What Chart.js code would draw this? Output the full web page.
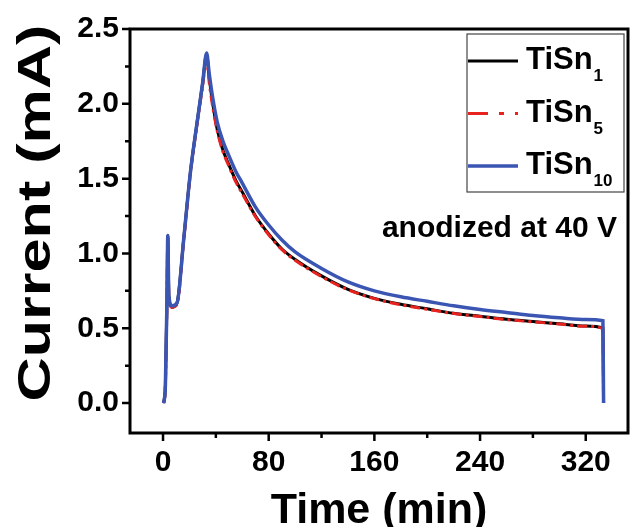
<!DOCTYPE html>
<html>
<head>
<meta charset="utf-8">
<script src="https://cdn.jsdelivr.net/npm/chart.js@4/dist/chart.umd.min.js"></script>
<style>
  html, body { margin: 0; padding: 0; background: #fff; }
  #wrap { width: 632px; height: 527px; }
</style>
</head>
<body>
<div id="wrap"><canvas id="chart" width="632" height="527"></canvas></div>
<script>
// time (min), shared by the three curves
const timeMin = [0.5, 1.8, 3.0, 3.6, 4.4, 6.8, 10.6, 15.6, 20.7, 25.7, 30, 33, 35, 38, 41, 45, 50, 55, 60, 70,
    80, 90, 100, 120, 140, 160, 180, 200, 220, 240, 260, 280, 300, 320, 333, 333.5];

// current (mA)
const tiSn1 = [0, 0.12, 0.69, 1.12, 0.72, 0.64, 0.67, 1.09, 1.54, 1.87, 2.14, 2.33, 2.17, 1.98, 1.83, 1.70, 1.59, 1.49, 1.41, 1.25,
    1.13, 1.03, 0.96, 0.85, 0.76, 0.70, 0.66, 0.63, 0.60, 0.58, 0.56, 0.545, 0.53, 0.515, 0.50, 0];
const tiSn5 = [0, 0.12, 0.69, 1.10, 0.71, 0.64, 0.66, 1.08, 1.53, 1.86, 2.12, 2.30, 2.14, 1.96, 1.82, 1.69, 1.58, 1.48, 1.40, 1.245,
    1.125, 1.025, 0.955, 0.845, 0.757, 0.698, 0.657, 0.627, 0.598, 0.578, 0.558, 0.543, 0.528, 0.513, 0.498, 0];
const tiSn10 = [0, 0.12, 0.69, 1.12, 0.72, 0.65, 0.67, 1.09, 1.54, 1.87, 2.14, 2.34, 2.20, 2.02, 1.88, 1.76, 1.65, 1.55, 1.47, 1.31,
    1.19, 1.09, 1.01, 0.90, 0.81, 0.75, 0.71, 0.68, 0.65, 0.625, 0.605, 0.585, 0.57, 0.558, 0.55, 0];

const seriesNames = ['TiSn1', 'TiSn5', 'TiSn10'];
const xTitle = 'Time (min)';
const yTitle = 'Current (mA)';
const note = 'anodized at 40 V';

const FONT = "'Liberation Sans', Arial, sans-serif";
Chart.defaults.font.family = FONT;
Chart.defaults.color = '#000';

function toPoints(values) {
    return timeMin.map((t, i) => ({ x: t, y: values[i] }));
}

const colors = ['#000000', '#e8231f', '#3b55b3'];
const dashes = [[], [10, 4, 3, 4], []];
const widths = [3, 3, 3.5];

const datasets = [tiSn1, tiSn5, tiSn10].map((vals, i) => ({
    label: seriesNames[i],
    data: toPoints(vals),
    borderColor: colors[i],
    borderDash: dashes[i],
    borderWidth: widths[i],
    pointRadius: 0,
    cubicInterpolationMode: 'monotone',
    fill: false,
    order: 2 - i
}));

// frame + outward ticks (major longer than minor), titles, legend, note
const framePlugin = {
    id: 'frame',
    afterDatasetsDraw(chart) {
        const { ctx, chartArea: a, scales: { x, y } } = chart;
        ctx.save();
        ctx.strokeStyle = '#000';
        ctx.lineWidth = 3;
        ctx.strokeRect(a.left, a.top, a.right - a.left, a.bottom - a.top);
        ctx.lineWidth = 2.5;
        ctx.beginPath();
        x.ticks.forEach(t => {
            const px = x.getPixelForValue(t.value);
            const len = t.value % 80 === 0 ? 8 : 5;
            ctx.moveTo(px, a.bottom);
            ctx.lineTo(px, a.bottom + len);
        });
        y.ticks.forEach(t => {
            const py = y.getPixelForValue(t.value);
            const major = Math.abs(t.value * 2 - Math.round(t.value * 2)) < 1e-9;
            ctx.moveTo(a.left, py);
            ctx.lineTo(a.left - (major ? 8 : 5), py);
        });
        ctx.stroke();
        ctx.restore();
    },
    afterDraw(chart) {
        const { ctx, chartArea: a } = chart;
        ctx.save();
        ctx.fillStyle = '#000';

        // x title
        ctx.font = 'bold 43px ' + FONT;
        ctx.textAlign = 'center';
        ctx.textBaseline = 'alphabetic';
        ctx.fillText(xTitle, (a.left + a.right) / 2, 523);

        // y title, a bit stretched along its length like the original
        ctx.save();
        ctx.translate(50, 213);
        ctx.rotate(-Math.PI / 2);
        ctx.scale(1.3, 1);
        ctx.font = 'bold 47px ' + FONT;
        ctx.fillText(yTitle, 0, 0);
        ctx.restore();

        // note
        ctx.font = 'bold 30px ' + FONT;
        ctx.textAlign = 'right';
        ctx.fillText(note, 617, 237);

        // legend box
        const boxR = a.right - 4, boxT = a.top + 5, boxW = 157, boxH = 158;
        const boxL = boxR - boxW;
        ctx.lineWidth = 1.2;
        ctx.strokeStyle = '#444';
        ctx.strokeRect(boxL, boxT, boxW, boxH);

        chart.data.datasets.forEach((ds, i) => {
            const ly = boxT + 27 + i * 52.5;
            ctx.save();
            ctx.strokeStyle = ds.borderColor;
            ctx.lineWidth = ds.borderWidth;
            ctx.setLineDash(i === 1 ? [20, 11, 5, 11] : []);
            ctx.beginPath();
            ctx.moveTo(boxL + 1, ly);
            ctx.lineTo(boxL + 51, ly);
            ctx.stroke();
            ctx.restore();

            const m = ds.label.match(/^(\D+)(\d+)$/);
            const base = m ? m[1] : ds.label;
            const sub = m ? m[2] : '';
            ctx.textAlign = 'left';
            ctx.font = 'bold 31px ' + FONT;
            const tx = boxL + 59;
            ctx.fillText(base, tx, ly + 8);
            const w = ctx.measureText(base).width;
            ctx.font = 'bold 17px ' + FONT;
            ctx.fillText(sub, tx + w + 1, ly + 20);
        });
        ctx.restore();
    }
};

new Chart(document.getElementById('chart'), {
    type: 'line',
    data: { datasets: datasets },
    options: {
        responsive: false,
        animation: false,
        layout: { padding: { top: 29, right: 4, left: 0, bottom: 0 } },
        plugins: {
            legend: { display: false },
            tooltip: { enabled: false }
        },
        scales: {
            x: {
                type: 'linear',
                min: -25,
                max: 352,
                grid: { display: false, drawTicks: false },
                border: { display: false },
                afterFit: scale => { scale.height = 94; },
                ticks: {
                    stepSize: 40,
                    includeBounds: false,
                    autoSkip: false,
                    maxRotation: 0,
                    padding: 12,
                    font: { size: 30, weight: 'bold' },
                    callback: v => (v % 80 === 0 ? String(v) : '')
                }
            },
            y: {
                type: 'linear',
                min: -0.2,
                max: 2.5,
                grid: { display: false, drawTicks: false },
                border: { display: false },
                afterFit: scale => { scale.width = 130; },
                ticks: {
                    stepSize: 0.25,
                    includeBounds: false,
                    autoSkip: false,
                    padding: 11,
                    font: { size: 30, weight: 'bold' },
                    callback: v => (Math.abs(v * 2 - Math.round(v * 2)) < 1e-9 ? v.toFixed(1) : '')
                }
            }
        }
    },
    plugins: [framePlugin]
});
</script>
</body>
</html>
